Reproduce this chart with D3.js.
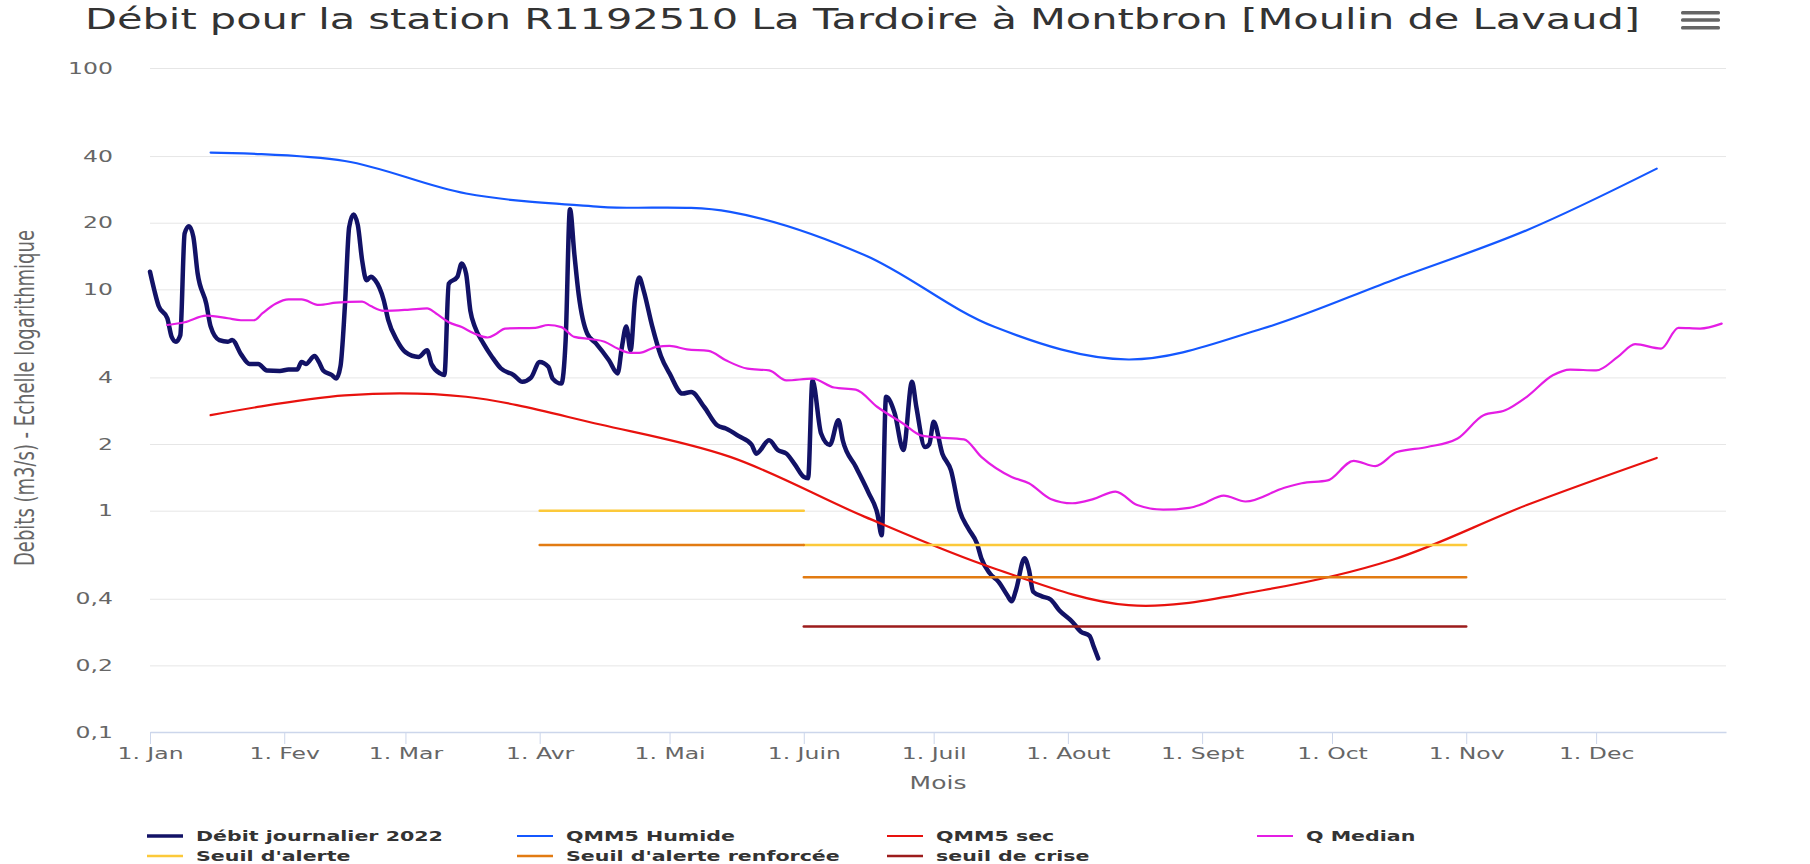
<!DOCTYPE html>
<html>
<head>
<meta charset="utf-8">
<title>Débit R1192510 La Tardoire à Montbron</title>
<script src="https://cdn.jsdelivr.net/npm/d3@7"></script>
<style>
    body { margin: 0; background: #ffffff; }
    #chart text { font-family: "DejaVu Sans", sans-serif; }
</style>
</head>
<body>
<div id="chart"></div>
<script>
// tick labels
const monthLabels = ["1. Jan", "1. Fev", "1. Mar", "1. Avr", "1. Mai", "1. Juin",
                     "1. Juil", "1. Aout", "1. Sept", "1. Oct", "1. Nov", "1. Dec"];
const yTicks = [0.1, 0.2, 0.4, 1, 2, 4, 10, 20, 40, 100];
const yTickLabels = ["0,1", "0,2", "0,4", "1", "2", "4", "10", "20", "40", "100"];

// débit journalier 2022 (m3/s)
const debit2022 = [
    ["01-01", 12.0], ["01-02", 9.9], ["01-03", 8.4], ["01-05", 7.4], ["01-06", 6.1], ["01-07", 5.8],
    ["01-08", 6.2], ["01-09", 17.9], ["01-10", 19.3], ["01-11", 17.3], ["01-12", 11.8], ["01-14", 8.6],
    ["01-15", 6.8], ["01-17", 5.9], ["01-19", 5.8], ["01-20", 5.9], ["01-22", 5.1], ["01-24", 4.6],
    ["01-26", 4.6], ["01-28", 4.3], ["01-31", 4.28], ["02-02", 4.34], ["02-04", 4.34], ["02-05", 4.7],
    ["02-06", 4.6], ["02-08", 5.0], ["02-09", 4.7], ["02-10", 4.3], ["02-12", 4.1], ["02-13", 3.95],
    ["02-14", 4.5], ["02-15", 8.3], ["02-16", 19.1], ["02-17", 21.8], ["02-18", 19.5], ["02-19", 13.5],
    ["02-20", 11.0], ["02-21", 11.4], ["02-22", 11.0], ["02-24", 8.9], ["02-25", 7.3], ["02-27", 5.9],
    ["03-01", 5.2], ["03-04", 4.95], ["03-06", 5.3], ["03-07", 4.6], ["03-09", 4.17], ["03-10", 4.1],
    ["03-11", 10.6], ["03-13", 11.4], ["03-14", 13.1], ["03-15", 11.8], ["03-16", 8.0], ["03-17", 6.8],
    ["03-19", 5.7], ["03-21", 4.95], ["03-23", 4.4], ["03-26", 4.1], ["03-28", 3.82], ["03-30", 3.99],
    ["04-01", 4.7], ["04-03", 4.47], ["04-04", 3.95], ["04-06", 3.75], ["04-07", 5.9], ["04-08", 23.0],
    ["04-09", 14.5], ["04-10", 9.5], ["04-12", 6.3], ["04-14", 5.7], ["04-17", 4.78], ["04-19", 4.17],
    ["04-20", 5.5], ["04-21", 6.8], ["04-22", 5.3], ["04-23", 9.0], ["04-24", 11.3], ["04-25", 9.9],
    ["04-27", 6.8], ["04-29", 5.0], ["05-01", 4.17], ["05-04", 3.38], ["05-06", 3.44], ["05-09", 2.94],
    ["05-12", 2.43], ["05-14", 2.35], ["05-17", 2.17], ["05-20", 1.98], ["05-21", 1.81], ["05-24", 2.08],
    ["05-26", 1.88], ["05-28", 1.81], ["05-30", 1.61], ["06-01", 1.42], ["06-02", 1.40], ["06-03", 3.88],
    ["06-05", 2.23], ["06-07", 1.98], ["06-09", 2.56], ["06-10", 2.08], ["06-13", 1.58], ["06-16", 1.2],
    ["06-18", 0.97], ["06-19", 0.775], ["06-20", 3.27], ["06-22", 2.75], ["06-24", 1.88], ["06-26", 3.82],
    ["06-27", 2.94], ["06-29", 1.94], ["06-30", 2.0], ["07-01", 2.52], ["07-03", 1.81], ["07-05", 1.52],
    ["07-07", 1.0], ["07-09", 0.83], ["07-11", 0.71], ["07-12", 0.61], ["07-14", 0.52], ["07-16", 0.477],
    ["07-18", 0.415], ["07-19", 0.39], ["07-20", 0.437], ["07-22", 0.61], ["07-23", 0.54], ["07-24", 0.43],
    ["07-26", 0.41], ["07-28", 0.397], ["07-30", 0.355], ["08-02", 0.315], ["08-04", 0.284], ["08-06", 0.272],
    ["08-07", 0.242], ["08-08", 0.215]
];

// monthly references (mid-month)
const qmm5Humide = [
    ["01-15", 41.5], ["02-15", 38.0], ["03-15", 27.1], ["04-15", 23.6], ["05-15", 22.4], ["06-15", 14.3],
    ["07-15", 6.77], ["08-15", 4.82], ["09-15", 6.65], ["10-15", 11.0], ["11-15", 18.5], ["12-15", 35.1]
];
const qmm5Sec = [
    ["01-15", 2.70], ["02-15", 3.32], ["03-15", 3.27], ["04-15", 2.45], ["05-15", 1.75], ["06-15", 0.94],
    ["07-15", 0.548], ["08-15", 0.374], ["09-15", 0.437], ["10-15", 0.60], ["11-15", 1.06], ["12-15", 1.73]
];

const qMedian = [
    ["01-05", 6.9], ["01-09", 7.1], ["01-14", 7.6], ["01-19", 7.4], ["01-22", 7.25], ["01-25", 7.25],
    ["01-27", 7.8], ["01-30", 8.6], ["02-02", 9.0], ["02-05", 9.0], ["02-09", 8.5], ["02-13", 8.7],
    ["02-19", 8.8], ["02-21", 8.4], ["02-24", 8.0], ["03-02", 8.1], ["03-06", 8.2], ["03-08", 7.8],
    ["03-11", 7.1], ["03-14", 6.75], ["03-17", 6.3], ["03-20", 6.06], ["03-22", 6.3], ["03-24", 6.65],
    ["03-31", 6.7], ["04-03", 6.9], ["04-06", 6.75], ["04-09", 6.1], ["04-13", 5.95], ["04-16", 5.8],
    ["04-19", 5.4], ["04-22", 5.16], ["04-24", 5.16], ["04-28", 5.5], ["05-01", 5.55], ["05-05", 5.35],
    ["05-10", 5.27], ["05-14", 4.78], ["05-19", 4.38], ["05-24", 4.3], ["05-28", 3.88], ["06-03", 3.95],
    ["06-08", 3.6], ["06-13", 3.52], ["06-18", 2.94], ["06-24", 2.47], ["06-28", 2.19], ["07-01", 2.15],
    ["07-08", 2.1], ["07-12", 1.75], ["07-19", 1.42], ["07-23", 1.33], ["07-28", 1.13], ["08-02", 1.08],
    ["08-07", 1.13], ["08-12", 1.22], ["08-17", 1.06], ["08-23", 1.01], ["08-29", 1.03], ["09-01", 1.07],
    ["09-06", 1.17], ["09-11", 1.1], ["09-20", 1.27], ["09-24", 1.33], ["09-30", 1.37], ["10-06", 1.68],
    ["10-11", 1.59], ["10-16", 1.84], ["10-23", 1.94], ["10-30", 2.12], ["11-05", 2.7], ["11-10", 2.84],
    ["11-15", 3.27], ["11-21", 4.09], ["11-25", 4.34], ["12-01", 4.3], ["12-06", 4.95], ["12-10", 5.65],
    ["12-16", 5.4], ["12-20", 6.7], ["12-25", 6.65], ["12-30", 7.0]
];

// thresholds, null breaks the line
const seuilAlerte = [["04-01", 1.0], ["06-01", 1.0], null, ["06-01", 0.7], ["11-01", 0.7]];
const seuilRenforce = [["04-01", 0.7], ["06-01", 0.7], null, ["06-01", 0.5], ["11-01", 0.5]];
const seuilCrise = [["06-01", 0.3], ["11-01", 0.3]];

const series = [
    {name: "Débit journalier 2022", data: debit2022, color: "#121266", width: 4.5, curve: d3.curveMonotoneX},
    {name: "QMM5 Humide", data: qmm5Humide, color: "#1457ff", width: 2.2, curve: d3.curveCatmullRom},
    {name: "QMM5 sec", data: qmm5Sec, color: "#e8120e", width: 2.2, curve: d3.curveCatmullRom},
    {name: "Q Median", data: qMedian, color: "#e41de4", width: 2.2, curve: d3.curveMonotoneX},
    {name: "Seuil d'alerte", data: seuilAlerte, color: "#fcc93a", width: 2.5, curve: d3.curveLinear},
    {name: "Seuil d'alerte renforcée", data: seuilRenforce, color: "#e27b12", width: 2.5, curve: d3.curveLinear},
    {name: "seuil de crise", data: seuilCrise, color: "#9c1c1c", width: 2.5, curve: d3.curveLinear}
];

// the reference is stretched horizontally, text follows it
const SX = 1.47;

function renderDebit(container) {
    const W = 1810, H = 864;
    const plot = {left: 150, right: 1726, top: 68, bottom: 732};

    const svg = d3.select(container).append("svg")
        .attr("width", W)
        .attr("height", H);

    const parseDay = s => d3.timeParse("%Y-%m-%d")("2022-" + s);

    const x = d3.scaleTime()
        .domain([new Date(2022, 0, 1), new Date(2022, 11, 31)])
        .range([plot.left, plot.right]);
    const y = d3.scaleLog()
        .domain([0.1, 100])
        .range([plot.bottom, plot.top]);

    // y axis + grid
    const yAxis = svg.append("g")
        .attr("transform", `translate(${plot.left},0)`)
        .call(d3.axisLeft(y)
            .tickValues(yTicks)
            .tickFormat((d, i) => yTickLabels[i])
            .tickSize(-(plot.right - plot.left)));
    yAxis.select(".domain").remove();
    yAxis.selectAll(".tick line").attr("stroke", "#e6e6e6");
    yAxis.selectAll(".tick text")
        .attr("x", 0)
        .attr("transform", `translate(-37,0) scale(${SX},1)`)
        .attr("fill", "#666")
        .style("font-size", "16px");

    // series
    const line = d3.line()
        .defined(d => d !== null)
        .x(d => x(parseDay(d[0])))
        .y(d => y(d[1]));

    series.forEach(s => {
        svg.append("path")
            .datum(s.data)
            .attr("fill", "none")
            .attr("stroke", s.color)
            .attr("stroke-width", s.width)
            .attr("stroke-linejoin", "round")
            .attr("stroke-linecap", "round")
            .attr("d", line.curve(s.curve));
    });

    // x axis
    const xAxis = svg.append("g")
        .attr("transform", `translate(0,${plot.bottom})`)
        .call(d3.axisBottom(x)
            .tickValues(d3.range(12).map(m => new Date(2022, m, 1)))
            .tickFormat((d, i) => monthLabels[i])
            .tickSize(12)
            .tickSizeOuter(0));
    xAxis.select(".domain").attr("stroke", "#ccd6eb").attr("stroke-width", 1.5);
    xAxis.selectAll(".tick line").attr("stroke", "#ccd6eb");
    xAxis.selectAll(".tick text")
        .attr("y", 27)
        .attr("dy", null)
        .attr("transform", `scale(${SX},1)`)
        .attr("fill", "#666")
        .style("font-size", "16px");

    // titles
    svg.append("text")
        .attr("x", 85)
        .attr("y", 29)
        .attr("textLength", 1555)
        .attr("lengthAdjust", "spacingAndGlyphs")
        .attr("fill", "#333")
        .style("font-size", "27.5px")
        .text("Débit pour la station R1192510 La Tardoire à Montbron [Moulin de Lavaud]");

    svg.append("text")
        .attr("transform", `translate(${(plot.left + plot.right) / 2},789) scale(${SX},1)`)
        .attr("text-anchor", "middle")
        .attr("fill", "#666")
        .style("font-size", "17px")
        .text("Mois");

    svg.append("text")
        .attr("transform", `translate(34,398) rotate(-90) scale(1,${SX})`)
        .attr("text-anchor", "middle")
        .attr("fill", "#666")
        .style("font-size", "18px")
        .text("Debits (m3/s) - Echelle logarithmique");

    // menu button
    svg.append("g").selectAll("rect")
        .data([12.7, 20, 27.7])
        .join("rect")
        .attr("x", 1681)
        .attr("y", d => d - 1.7)
        .attr("width", 39)
        .attr("height", 3.4)
        .attr("rx", 1.5)
        .attr("fill", "#666");

    // legend
    const legend = svg.append("g");
    series.forEach((s, i) => {
        const lx = 147 + (i % 4) * 370;
        const ly = 836 + Math.floor(i / 4) * 20;
        legend.append("line")
            .attr("x1", lx).attr("x2", lx + 36)
            .attr("y1", ly).attr("y2", ly)
            .attr("stroke", s.color)
            .attr("stroke-width", Math.min(s.width, 3.5));
        legend.append("text")
            .attr("transform", `translate(${lx + 49},${ly + 5}) scale(${SX},1)`)
            .attr("fill", "#333")
            .style("font-size", "14px")
            .style("font-weight", "bold")
            .text(s.name);
    });
}

renderDebit("#chart");
</script>
</body>
</html>
